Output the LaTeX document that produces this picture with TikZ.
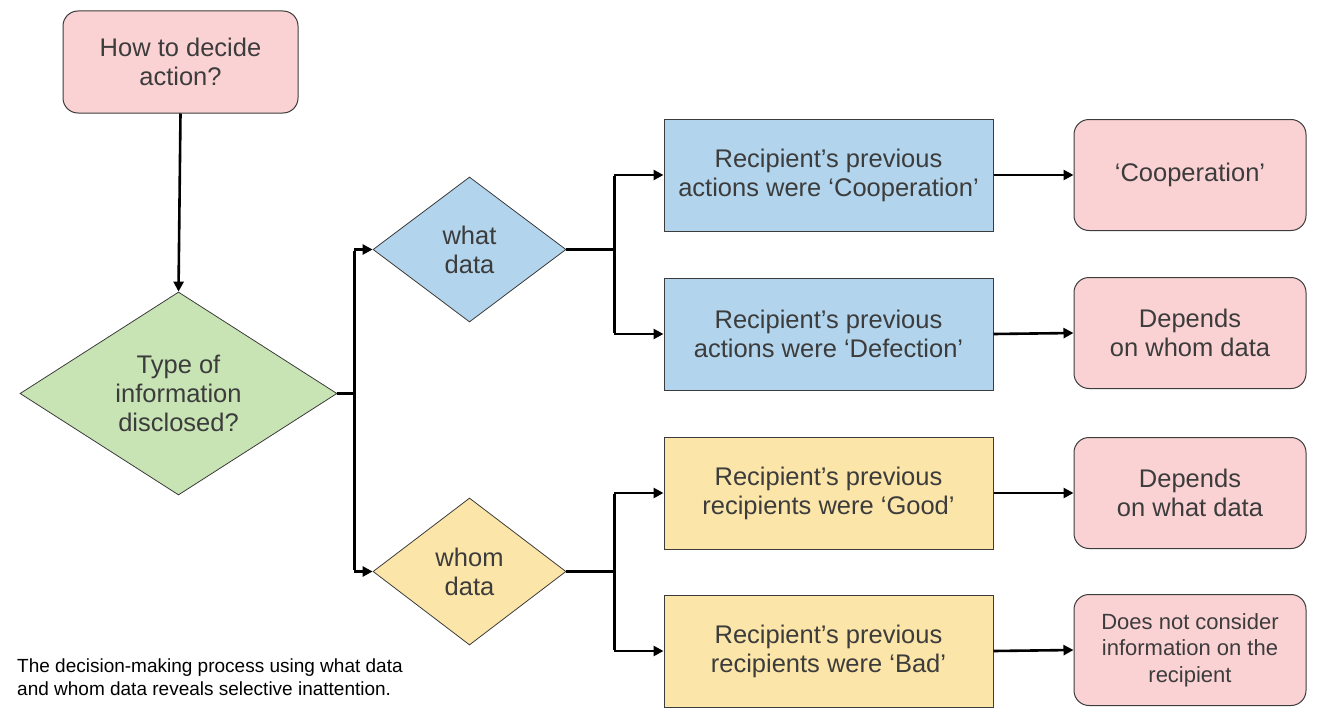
\documentclass[tikz,border=0pt]{standalone}
\usepackage{fontspec}
\setmainfont{Liberation Sans}
\usetikzlibrary{shapes.geometric,arrows.meta}
\definecolor{pinkf}{RGB}{251,210,212}
\definecolor{bluef}{RGB}{178,212,236}
\definecolor{yellf}{RGB}{252,229,168}
\definecolor{greenf}{RGB}{200,228,180}
\definecolor{txt}{RGB}{60,60,60}
\definecolor{bord}{RGB}{60,60,60}
\tikzset{
  x=1pt,y=-1pt,
  every node/.style={text=txt,font=\fontsize{25.5}{29}\selectfont,align=center,inner sep=0pt},
  pinkbox/.style={draw=bord,line width=1pt,fill=pinkf,rounded corners=15pt,minimum width=232pt,minimum height=111pt},
  toppink/.style={pinkbox,minimum width=235pt,minimum height=102pt},
  bluebox/.style={draw=bord,line width=1pt,fill=bluef,minimum width=329pt,minimum height=112pt},
  yellbox/.style={draw=bord,line width=1pt,fill=yellf,minimum width=329pt,minimum height=112pt},
  dia/.style={draw=bord,line width=0.8pt,diamond,inner sep=0pt},
  conn/.style={draw=black,line width=2.8pt},
  arr/.style={draw=black,line width=2.6pt,-{Triangle[length=10pt,width=10pt]}},
}
\begin{document}
\begin{tikzpicture}
\useasboundingbox (0,0) rectangle (1320,709);
% top
\node[toppink] (q) at (180.5,62) {How to decide\\action?};
% main diamond
\node[dia,fill=greenf,minimum width=317pt,minimum height=203pt,
  label={center:Type of\\information\\disclosed?}] (t) at (178.5,393.5) {};
% what / whom diamonds
\node[dia,fill=bluef,minimum width=193pt,minimum height=145pt,
  label={center:what\\data}] (what) at (469.5,249.5) {};
\node[dia,fill=yellf,minimum width=193pt,minimum height=147pt,
  label={center:whom\\data}] (whom) at (469.5,571.5) {};
% middle boxes
\node[bluebox] (b1) at (828.5,175) {Recipient’s previous\\actions were ‘Cooperation’};
\node[bluebox] (b2) at (828.5,334) {Recipient’s previous\\actions were ‘Defection’};
\node[yellbox] (y1) at (828.5,493) {Recipient’s previous\\recipients were ‘Good’};
\node[yellbox] (y2) at (828.5,651) {Recipient’s previous\\recipients were ‘Bad’};
% results
\node[pinkbox] (r1) at (1190,175) {‘Cooperation’};
\node[pinkbox] (r2) at (1190,333) {Depends\\on whom data};
\node[pinkbox] (r3) at (1190,493) {Depends\\on what data};
\node[pinkbox,font=\fontsize{22}{26.5}\selectfont] (r4) at (1190,650) {Does not consider\\information on the\\recipient};
% caption
\node[anchor=north west,align=left,font=\fontsize{19}{22.5}\selectfont,text=black] (cap) at (17,659)
  {The decision-making process using what data\\and whom data reveals selective inattention.};
% connectors
\draw[arr] (q.south) -- (t.north);
\draw[conn] (t.east) -- ++(17,0) coordinate (j1);
\draw[conn] ([yshift=-1.4pt]j1 |- what.west) -- ([yshift=1.4pt]j1 |- whom.west);
\draw[arr] (j1 |- what.west) -- (what.west);
\draw[arr] (j1 |- whom.west) -- (whom.west);
\draw[conn] (what.east) -- ++(48,0) coordinate (j2);
\draw[conn] ([yshift=-1.4pt]j2 |- b1.west) -- ([yshift=1.4pt]j2 |- b2.west);
\draw[arr] (j2 |- b1.west) -- (b1.west);
\draw[arr] (j2 |- b2.west) -- (b2.west);
\draw[conn] (whom.east) -- ++(48,0) coordinate (j3);
\draw[conn] ([yshift=-1.4pt]j3 |- y1.west) -- ([yshift=1.4pt]j3 |- y2.west);
\draw[arr] (j3 |- y1.west) -- (y1.west);
\draw[arr] (j3 |- y2.west) -- (y2.west);
\draw[arr] (b1.east) -- (r1.west);
\draw[arr] (b2.east) -- (r2.west);
\draw[arr] (y1.east) -- (r3.west);
\draw[arr] (y2.east) -- (r4.west);
\end{tikzpicture}
\end{document}
